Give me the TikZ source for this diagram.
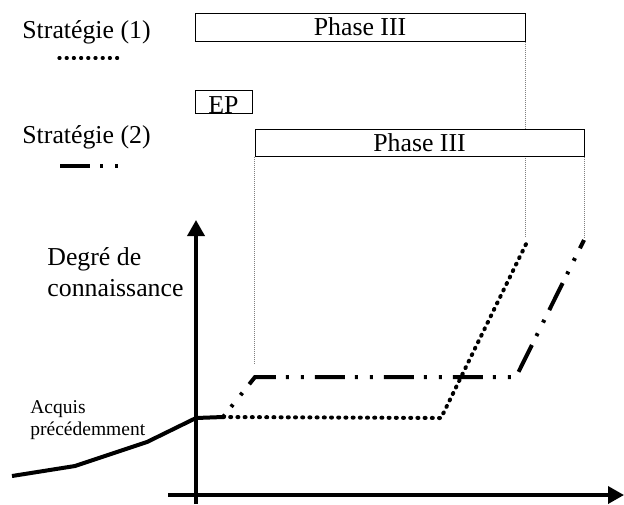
\documentclass[tikz,border=0pt]{standalone}
\usepackage{fontspec}
\setmainfont{Liberation Serif}
\usetikzlibrary{positioning,arrows.meta}

\begin{document}
\begin{tikzpicture}[x=0.5pt,y=-0.5pt,font=\fontsize{12.9}{15.5}\selectfont]
    \tikzstyle{phase} = [draw,line width=0.5pt,fill=white,inner sep=0pt]
    \tikzstyle{legend} = [anchor=base west,inner sep=0pt]
    \tikzstyle{dots} = [line width=2pt,line cap=round,dash pattern=on 0.5pt off 3.1pt]
    \tikzstyle{dashdots} = [line width=2pt,dash pattern=on 15pt off 5pt on 1.5pt off 6pt on 1.5pt off 5.5pt]
    \tikzstyle{guide} = [gray,line width=0.4pt,dash pattern=on 0.5pt off 0.5pt]
    \tikzstyle{axis} = [line width=1.8pt,-{Triangle[length=8pt,width=8.5pt]}]
    \useasboundingbox (0,0) rectangle (624,504);
      % legend
      \node[legend] (stratOne) at (22,38) {Stratégie (1)};
      \node[legend] (stratTwo) at (22,143) {Stratégie (2)};
      \draw[dots,line width=1.6pt] (59,58) -- (120,58);
      \draw[dashdots] (60,166) -- (118,166);
      % phases
      \node[phase,minimum width=165pt,minimum height=14pt] (phaseOne) at (360,27) {Phase III};
      \node[phase,minimum width=28.5pt,minimum height=11pt,text height=11.3pt] (ep) at (223.5,102) {EP};
      \coordinate (endOne) at (528,240);
      \coordinate (endTwo) at (584,240);
      \draw[guide] (phaseOne.south east) -- (phaseOne.south east |- 0,237);
      \node[phase,minimum width=164.5pt,minimum height=13.5pt] (phaseTwo) at (419.5,142.5) {Phase III};
      \draw[guide] (phaseTwo.south east) -- (phaseTwo.south east |- 0,237);
      \draw[guide] (phaseTwo.south west) -- (phaseTwo.south west |- 0,363);
      % axes
      \coordinate (ybot) at (196,504);
      \coordinate (ytop) at (196,220);
      \coordinate (xleft) at (168,495);
      \coordinate (xright) at (624,495);
      \draw[axis] (ybot) -- (ytop);
      \draw[axis] (xleft) -- (xright);
      \node[anchor=west,inner sep=0pt,align=left] (degre) at (47,272) {Degré de\\connaissance};
      \node[anchor=west,inner sep=0pt,align=left,font=\fontsize{9.75}{11}\selectfont] (acquis) at (30,420) {Acquis\\précédemment};
      % curves
      \coordinate (fork) at (223,417);
      \draw[line width=2pt,line join=round] (12,476) -- (75,466) -- (147,442) -- (196,418) -- (fork);
      \draw[dots] (fork) -- (441,418) -- (endOne);
      \draw[dashdots,dash phase=13.5pt] (fork) -- (255,377) -- (516,377) -- (endTwo);
  \end{tikzpicture}
\end{document}
